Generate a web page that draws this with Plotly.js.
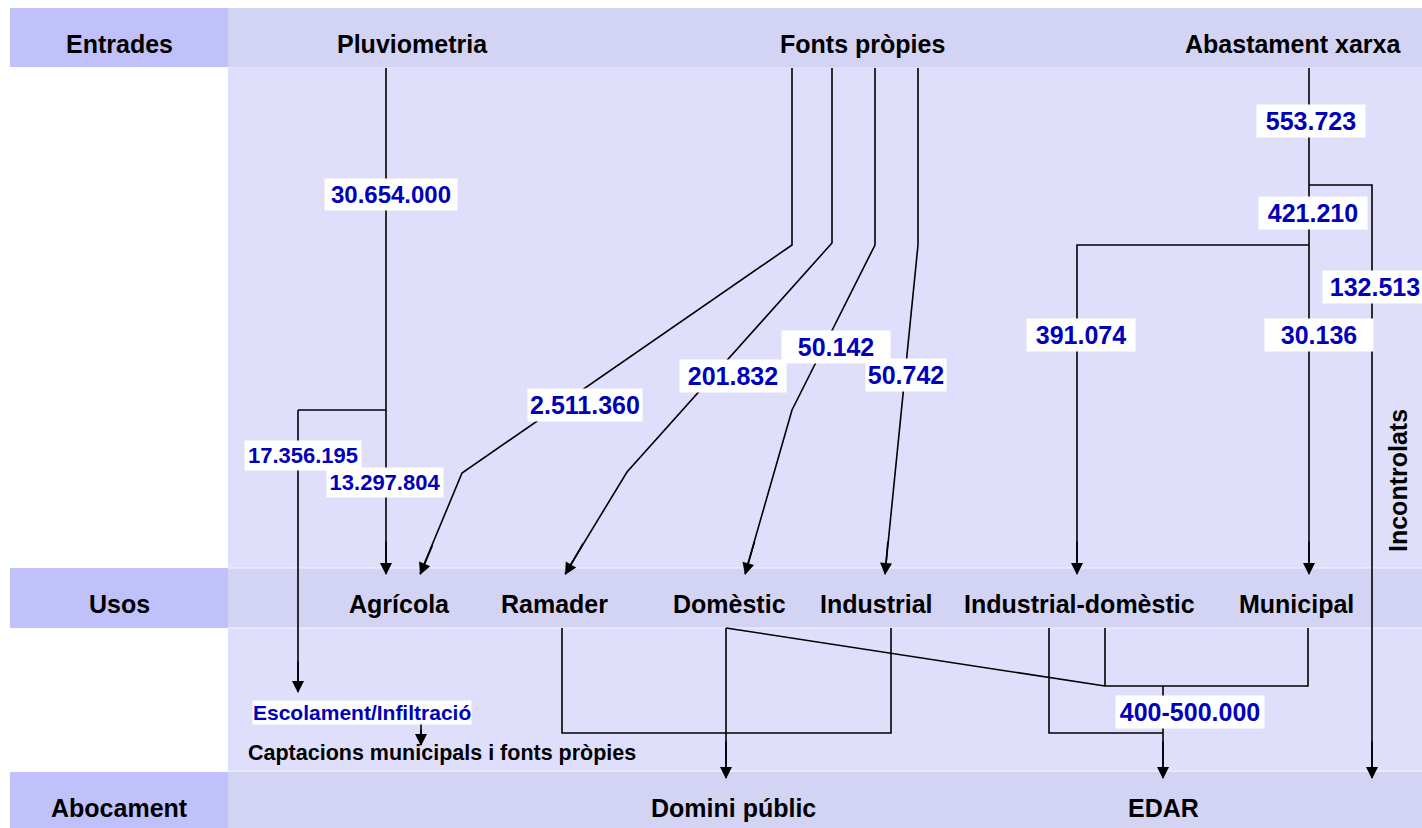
<!DOCTYPE html>
<html>
<head>
<meta charset="utf-8">
<script src="https://cdn.plot.ly/plotly-3.0.1.min.js"></script>
<style>html,body{margin:0;padding:0;background:#fff;}#chart{width:1422px;height:828px;}</style>
</head>
<body>
<div id="chart"></div>
<script>
// ---- Data (texts / values) ----
const rowLabels = ['Entrades', 'Usos', 'Abocament'];
const entradaLabels = ['Pluviometria', 'Fonts pròpies', 'Abastament xarxa'];
const usosLabels = ['Agrícola', 'Ramader', 'Domèstic', 'Industrial', 'Industrial-domèstic', 'Municipal'];
const abocamentLabels = ['Domini públic', 'EDAR'];
const pluvioValues = ['30.654.000', '17.356.195', '13.297.804'];
const fontsValues = ['2.511.360', '201.832', '50.142', '50.742'];
const xarxaValues = ['553.723', '421.210', '132.513', '391.074', '30.136'];
const edarValue = ['400-500.000'];
const sideLabels = ['Escolament/Infiltració', 'Captacions municipals i fonts pròpies', 'Incontrolats'];

// ---- Geometry (diagram layout, pixel space) ----
const FONT = 'Liberation Sans, Arial, sans-serif';
const BLUE = '#0000bb';
const geo = {
  rowY: [44, 604, 808],
  rowBands: [[8, 67], [568, 628], [772, 828]],
  entradaX: [412, 862, 1293],
  usosX: [399, 554, 729, 876, 1079, 1296],
  abocX: [733, 1163],
  pluvioPos: [[391, 194], [303, 455], [385, 482]],
  fontsPos: [[585, 405], [733, 376], [836, 347], [906, 375]],
  xarxaPos: [[1311, 121], [1313, 213], [1375, 287], [1081, 335], [1319, 335]],
  edarPos: [1190, 712]
};
// polylines (the last point of an arrowed path is its tip)
const paths = [
  [[386,68],[386,410],[298,410]],
  [[792,68],[792,245],[462,473],[420,574]],
  [[832,68],[832,243],[627,472],[565,574]],
  [[875,68],[875,245],[792,410],[745,574]],
  [[918,68],[918,245],[885,574]],
  [[1309,68],[1309,574]],
  [[1309,245],[1077,245],[1077,574]],
  [[1309,185],[1372,185],[1372,778]],
  [[386,410],[386,574]],
  [[298,410],[298,692]],
  [[562,628],[562,733],[891,733],[891,628]],
  [[726,628],[1105,686],[1308,686],[1308,628]],
  [[726,628],[726,778]],
  [[1105,628],[1105,686]],
  [[1049,628],[1049,733],[1163,733]],
  [[1163,686],[1163,778]],
  [[421,723],[421,745]]
];
// arrowheads: [tailX, tailY, tipX, tipY]
const arrows = [
  [386,540,386,575],[298,660,298,693],
  [433,544,420,575],[584,542,565,575],[755,540,745,575],[888,540,885,575],
  [1309,540,1309,575],[1077,540,1077,575],[1372,740,1372,779],
  [726,740,726,779],[1163,740,1163,779],[421,728,421,746]
];

// ---- Build ----
const traces = paths.map(p => ({
  type: 'scatter', mode: 'lines',
  x: p.map(q => q[0]), y: p.map(q => q[1]),
  line: {color: '#000', width: 1.6}, hoverinfo: 'skip', showlegend: false
}));

const shapes = [];
shapes.push({type:'rect', xref:'x', yref:'y', x0:228, x1:1422, y0:67, y1:772, fillcolor:'#dfdffc', line:{width:0}, layer:'below'});
geo.rowBands.forEach(b => {
  shapes.push({type:'rect', xref:'x', yref:'y', x0:10, x1:228, y0:b[0], y1:b[1], fillcolor:'#c0c0fb', line:{width:0}, layer:'below'});
  shapes.push({type:'rect', xref:'x', yref:'y', x0:228, x1:1422, y0:b[0], y1:b[1], fillcolor:'#d3d3f4', line:{width:0}, layer:'below'});
});
[568, 628, 771].forEach(y => shapes.push({type:'line', xref:'x', yref:'y', x0:228, x1:1422, y0:y, y1:y, line:{color:'#f2f2ff', width:1}, layer:'below'}));

const ann = [];
function txt(x, y, t, size, color, extra) {
  ann.push(Object.assign({x:x, y:y, xref:'x', yref:'y', text:'<b>'+t+'</b>', showarrow:false,
    xanchor:'center', yanchor:'middle', font:{family:FONT, size:size, color:color}}, extra || {}));
}
function val(x, y, t, size, w) {
  txt(x, y, t, size, BLUE, {bgcolor:'#ffffff', borderpad:2, width: w});
}
rowLabels.forEach((t, i) => txt(119, geo.rowY[i], t, 25, '#000'));
entradaLabels.forEach((t, i) => txt(geo.entradaX[i], geo.rowY[0], t, 25, '#000'));
usosLabels.forEach((t, i) => txt(geo.usosX[i], geo.rowY[1], t, 25, '#000'));
abocamentLabels.forEach((t, i) => txt(geo.abocX[i], geo.rowY[2], t, 25, '#000'));

const pluvioW = [128, 112, 112], pluvioS = [24, 22, 22];
pluvioValues.forEach((t, i) => val(geo.pluvioPos[i][0], geo.pluvioPos[i][1], t, pluvioS[i], pluvioW[i]));
const fontsW = [110, 102, 104, 76];
fontsValues.forEach((t, i) => val(geo.fontsPos[i][0], geo.fontsPos[i][1], t, 25, fontsW[i]));
const xarxaW = [104, 104, 100, 104, 104];
xarxaValues.forEach((t, i) => val(geo.xarxaPos[i][0], geo.xarxaPos[i][1], t, 25, xarxaW[i]));
val(geo.edarPos[0], geo.edarPos[1], edarValue[0], 25, 144);

txt(362, 712, sideLabels[0], 21, BLUE, {bgcolor:'#ffffff', borderpad:0});
txt(442, 753, sideLabels[1], 21.5, '#000');
txt(1398, 481, sideLabels[2], 25, '#000', {textangle:-90});

arrows.forEach(a => ann.push({
  x:a[2], y:a[3], ax:a[0], ay:a[1], xref:'x', yref:'y', axref:'x', ayref:'y',
  text:'', showarrow:true, arrowhead:2, arrowsize:1.5, arrowwidth:1.6, arrowcolor:'#000', standoff:0
}));

const layout = {
  width:1422, height:828, margin:{l:0, r:0, t:0, b:0, pad:0},
  paper_bgcolor:'#ffffff', plot_bgcolor:'#ffffff', showlegend:false,
  xaxis:{range:[0,1422], visible:false, fixedrange:true},
  yaxis:{range:[828,0], visible:false, fixedrange:true},
  shapes:shapes, annotations:ann
};
Plotly.newPlot('chart', traces, layout, {displayModeBar:false, staticPlot:true});
</script>
</body>
</html>
